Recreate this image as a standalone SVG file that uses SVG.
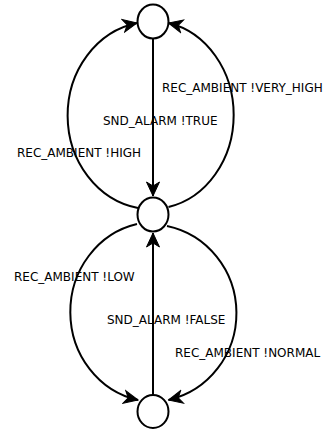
<svg xmlns="http://www.w3.org/2000/svg" width="329" height="430" viewBox="0 0 329 430">
<style>
.node{fill:#fff;stroke:#000;stroke-width:2}
.edge{fill:none;stroke:#000;stroke-width:2;marker-end:url(#arr)}
.lbl{font-family:"DejaVu Sans",sans-serif;font-size:12px;fill:#000}
</style>
<defs>
<marker id="arr" markerUnits="userSpaceOnUse" viewBox="-15 -8 16 16" refX="0" refY="0" markerWidth="16" markerHeight="16" orient="auto">
<path d="M0,0 L-14,-6.5 L-10,0 L-14,6.5 Z" fill="#000" stroke="#000" stroke-width="1" stroke-linejoin="miter"/>
</marker>
</defs>
<rect width="329" height="430" fill="#fff"/>
<g id="edges">
<path class="edge" d="M153 38.5 L153 196"/>
<path class="edge" d="M153 395 L153 233"/>
<path class="edge" d="M138 208 A85 94 0 0 1 137 23"/>
<path class="edge" d="M168.5 207 A82 94 0 0 0 168.5 23"/>
<path class="edge" d="M137 224 A85 90 0 0 0 138 400"/>
<path class="edge" d="M167 226 A87 89 0 0 1 168.5 400"/>
</g>
<g id="labels">
<text class="lbl" x="162" y="92">REC_AMBIENT !VERY_HIGH</text>
<text class="lbl" x="103" y="125">SND_ALARM !TRUE</text>
<text class="lbl" x="17" y="157">REC_AMBIENT !HIGH</text>
<text class="lbl" x="14" y="281">REC_AMBIENT !LOW</text>
<text class="lbl" x="107" y="323.5">SND_ALARM !FALSE</text>
<text class="lbl" x="175" y="357">REC_AMBIENT !NORMAL</text>
</g>
<g id="n0"><ellipse class="node" cx="153" cy="21.5" rx="15.5" ry="17"/></g>
<g id="n1"><ellipse class="node" cx="153" cy="214.5" rx="15.5" ry="17"/></g>
<g id="n2"><ellipse class="node" cx="153" cy="411.5" rx="15.5" ry="16.5"/></g>
</svg>
